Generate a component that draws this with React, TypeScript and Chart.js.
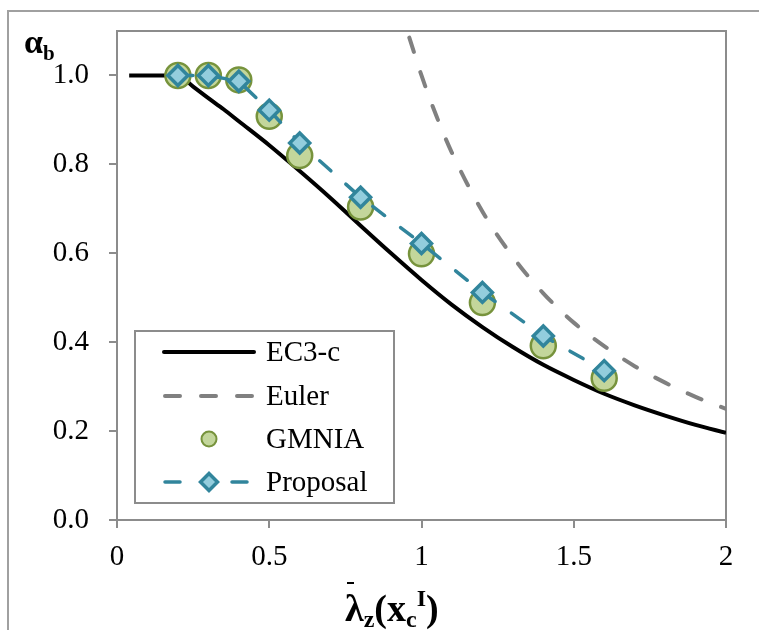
import React, { useEffect, useRef } from 'react';
import { Chart, registerables } from 'chart.js';

Chart.register(...registerables);

// ---- data ----
const ec3Lambda = [0.04, 0.1, 0.2, 0.25, 0.3, 0.35, 0.4, 0.5, 0.6, 0.7, 0.8, 0.9, 1.0, 1.1, 1.2, 1.3, 1.4, 1.5, 1.6, 1.7, 1.8, 1.9, 2.0];
const ec3Alpha = [1.0, 1.0, 1.0, 0.975, 0.949, 0.924, 0.897, 0.843, 0.785, 0.725, 0.662, 0.6, 0.54, 0.484, 0.434, 0.389, 0.349, 0.315, 0.284, 0.258, 0.235, 0.214, 0.196];

const eulerLambda = [0.96, 1.0, 1.05, 1.1, 1.2, 1.3, 1.4, 1.5, 1.6, 1.7, 1.8, 1.9, 2.0];
const eulerAlpha = [1.085, 1.0, 0.907, 0.826, 0.694, 0.592, 0.51, 0.444, 0.391, 0.346, 0.309, 0.277, 0.25];

const testLambda = [0.2, 0.3, 0.4, 0.5, 0.6, 0.8, 1.0, 1.2, 1.4, 1.6];
const gmniaAlpha = [1.0, 1.0, 0.99, 0.908, 0.82, 0.704, 0.599, 0.489, 0.392, 0.319];
const proposalAlpha = [1.0, 1.0, 0.987, 0.922, 0.848, 0.726, 0.622, 0.512, 0.414, 0.336];

const seriesNames = ['EC3-c', 'Euler', 'GMNIA', 'Proposal'];

const X_MIN = 0, X_MAX = 2, X_STEP = 0.5;
const Y_MIN = 0, Y_MAX = 1.1, Y_STEP = 0.2;

// ---- styles ----
const SERIF = "'Liberation Serif', 'Times New Roman', serif";
const AXIS = '#8c8c8c';
const BLACK = '#000000';
const EULER = '#808080';
const TEAL = '#31859C';
const TEAL_FILL = '#93CDDD';
const GREEN_FILL = '#C3D69B';
const GREEN_EDGE = '#77933C';

const pts = (xs: number[], ys: number[]) => xs.map((x, i) => ({ x, y: ys[i] }));

function drawPieces(ctx: CanvasRenderingContext2D, x0: number, base: number, pieces: { t: string; size: number; dy: number }[]) {
  let x = x0;
  for (const p of pieces) {
    ctx.font = `bold ${p.size}px ${SERIF}`;
    ctx.fillText(p.t, x, base + p.dy);
    x += ctx.measureText(p.t).width;
  }
}

const decor = {
  id: 'decor',
  beforeDraw(chart: any) {
    const ctx = chart.ctx as CanvasRenderingContext2D;
    ctx.save();
    ctx.fillStyle = '#fff';
    ctx.fillRect(0, 0, chart.width, chart.height);
    ctx.strokeStyle = '#a0a0a0';
    ctx.lineWidth = 2;
    ctx.beginPath();
    ctx.moveTo(8, chart.height);
    ctx.lineTo(8, 11);
    ctx.lineTo(chart.width, 11);
    ctx.stroke();
    ctx.restore();
  },
  beforeDatasetsDraw(chart: any) {
    const ctx = chart.ctx as CanvasRenderingContext2D;
    const a = chart.chartArea;
    ctx.save();
    ctx.strokeStyle = AXIS;
    ctx.lineWidth = 2;
    ctx.beginPath();
    ctx.moveTo(a.left, a.top);
    ctx.lineTo(a.right, a.top);
    ctx.lineTo(a.right, a.bottom);
    ctx.stroke();
    ctx.restore();
  },
  afterDraw(chart: any) {
    const ctx = chart.ctx as CanvasRenderingContext2D;
    ctx.save();
    // legend box
    const lx = 135, ly = 331, lw = 259, lh = 172;
    ctx.fillStyle = '#fff';
    ctx.fillRect(lx, ly, lw, lh);
    ctx.strokeStyle = AXIS;
    ctx.lineWidth = 2;
    ctx.strokeRect(lx, ly, lw, lh);
    const rows = [352, 396, 439, 482];
    const s0 = 164, s1 = 254, mid = 209;
    // EC3-c
    ctx.strokeStyle = BLACK;
    ctx.lineWidth = 4;
    ctx.lineCap = 'round';
    ctx.beginPath();
    ctx.moveTo(s0, rows[0]);
    ctx.lineTo(s1, rows[0]);
    ctx.stroke();
    // Euler
    ctx.strokeStyle = EULER;
    ctx.setLineDash([15, 21]);
    ctx.beginPath();
    ctx.moveTo(s0 + 1, rows[1]);
    ctx.lineTo(s1, rows[1]);
    ctx.stroke();
    // Proposal line
    ctx.strokeStyle = TEAL;
    ctx.lineWidth = 3.5;
    ctx.setLineDash([15, 52]);
    ctx.beginPath();
    ctx.moveTo(s0 + 1, rows[3]);
    ctx.lineTo(s1, rows[3]);
    ctx.stroke();
    ctx.setLineDash([]);
    // GMNIA marker
    ctx.fillStyle = GREEN_FILL;
    ctx.strokeStyle = GREEN_EDGE;
    ctx.lineWidth = 2;
    ctx.beginPath();
    ctx.arc(mid, rows[2], 7.5, 0, Math.PI * 2);
    ctx.fill();
    ctx.stroke();
    // Proposal marker
    ctx.fillStyle = TEAL_FILL;
    ctx.strokeStyle = TEAL;
    ctx.lineWidth = 3.5;
    ctx.lineJoin = 'miter';
    const r = 8.5;
    ctx.beginPath();
    ctx.moveTo(mid - r, rows[3]);
    ctx.lineTo(mid, rows[3] - r);
    ctx.lineTo(mid + r, rows[3]);
    ctx.lineTo(mid, rows[3] + r);
    ctx.closePath();
    ctx.fill();
    ctx.stroke();
    // legend text
    ctx.fillStyle = '#000';
    ctx.font = `29px ${SERIF}`;
    ctx.textBaseline = 'middle';
    ctx.textAlign = 'left';
    seriesNames.forEach((n, i) => ctx.fillText(n, 266, rows[i] + 1));

    // axis titles
    ctx.textBaseline = 'alphabetic';
    drawPieces(ctx, 24, 53, [
      { t: 'α', size: 34, dy: 0 },
      { t: 'b', size: 21, dy: 7 },
    ]);
    drawPieces(ctx, 345, 621, [
      { t: 'λ', size: 38, dy: 0 },
      { t: 'z', size: 24, dy: 6 },
      { t: '(', size: 38, dy: 0 },
      { t: 'x', size: 38, dy: 0 },
      { t: 'c', size: 24, dy: 6 },
      { t: 'I', size: 24, dy: -15 },
      { t: ')', size: 38, dy: 0 },
    ]);
    // bar over lambda
    ctx.fillRect(347, 582, 7, 2);
    ctx.restore();
  },
};

export default function App() {
  const ref = useRef<HTMLCanvasElement | null>(null);

  useEffect(() => {
    if (!ref.current) return;
    const tickFont = { family: SERIF, size: 29 };
    const chart = new Chart(ref.current, {
      type: 'line',
      data: {
        datasets: [
          {
            label: seriesNames[3],
            data: pts(testLambda, proposalAlpha),
            borderColor: TEAL,
            borderWidth: 3.5,
            borderDash: [15, 20],
            borderCapStyle: 'round',
            tension: 0,
            pointStyle: 'rectRot',
            pointRadius: 10,
            pointBorderWidth: 3.5,
            pointBackgroundColor: TEAL_FILL,
            pointBorderColor: TEAL,
            order: 0,
          },
          {
            label: seriesNames[2],
            data: pts(testLambda, gmniaAlpha),
            showLine: false,
            pointStyle: 'circle',
            pointRadius: 12.5,
            pointBorderWidth: 2.5,
            pointBackgroundColor: GREEN_FILL,
            pointBorderColor: GREEN_EDGE,
            order: 1,
          },
          {
            label: seriesNames[1],
            data: pts(eulerLambda, eulerAlpha),
            borderColor: EULER,
            borderWidth: 4,
            borderDash: [15, 21],
            borderCapStyle: 'round',
            cubicInterpolationMode: 'monotone',
            pointRadius: 0,
            order: 2,
          },
          {
            label: seriesNames[0],
            data: pts(ec3Lambda, ec3Alpha),
            borderColor: BLACK,
            borderWidth: 4,
            cubicInterpolationMode: 'monotone',
            pointRadius: 0,
            order: 3,
          },
        ] as any,
      },
      options: {
        animation: false,
        responsive: false,
        maintainAspectRatio: false,
        layout: { padding: { left: 0, right: 33, top: 31, bottom: 0 } },
        plugins: { legend: { display: false }, tooltip: { enabled: false } },
        scales: {
          x: {
            type: 'linear',
            min: X_MIN,
            max: X_MAX,
            afterFit: (s: any) => { s.height = 110; s.paddingLeft = 0; s.paddingRight = 0; },
            ticks: {
              stepSize: X_STEP,
              font: tickFont,
              color: '#000',
              padding: 12,
              maxRotation: 0,
              autoSkip: false,
              callback: (v: any) => String(Number(v)),
            },
            grid: { drawOnChartArea: false, drawTicks: true, tickLength: 8, color: AXIS, lineWidth: 2 },
            border: { display: true, color: AXIS, width: 2 },
          },
          y: {
            type: 'linear',
            min: Y_MIN,
            max: Y_MAX,
            afterFit: (s: any) => { s.width = 117; s.paddingTop = 0; s.paddingBottom = 0; },
            ticks: {
              stepSize: Y_STEP,
              includeBounds: false,
              font: tickFont,
              color: '#000',
              padding: 20,
              callback: (v: any) => Number(v).toFixed(1),
            },
            grid: { drawOnChartArea: false, drawTicks: true, tickLength: 8, color: AXIS, lineWidth: 2 },
            border: { display: true, color: AXIS, width: 2 },
          },
        },
      } as any,
      plugins: [decor],
    });
    return () => chart.destroy();
  }, []);

  return (
    <div style={{ position: 'fixed', left: 0, top: 0, width: 759, height: 630 }}>
      <canvas ref={ref} width={759} height={630} style={{ width: 759, height: 630, display: 'block' }} />
    </div>
  );
}
